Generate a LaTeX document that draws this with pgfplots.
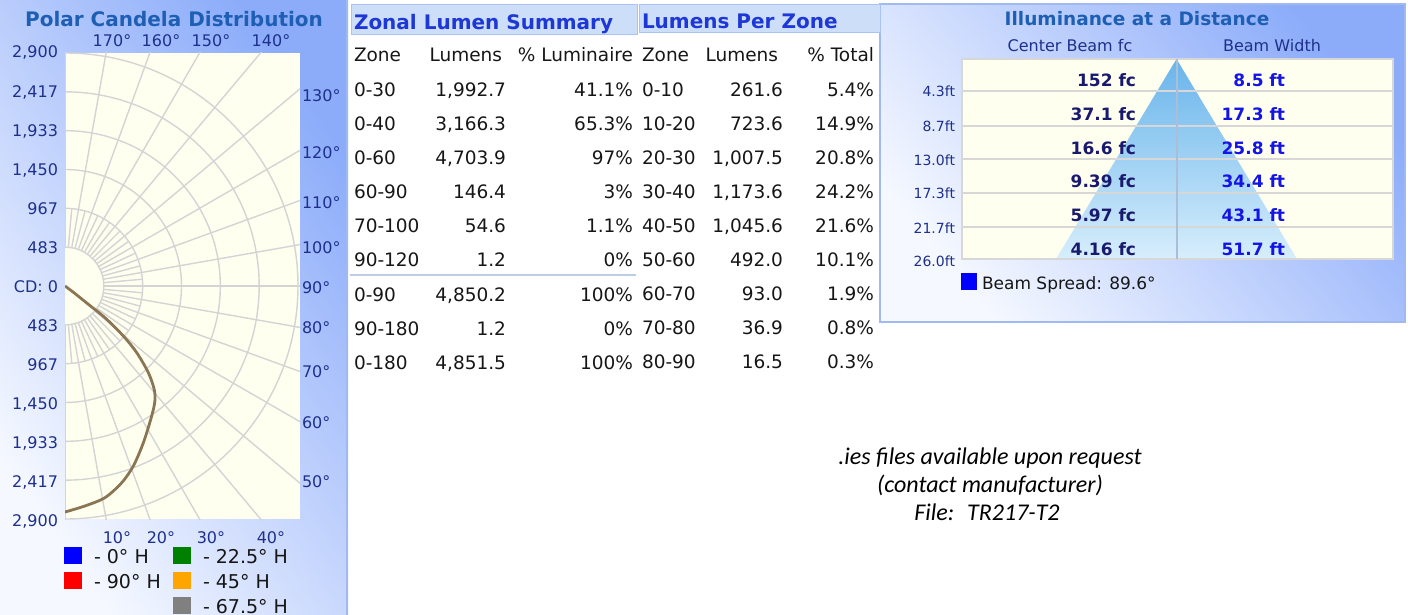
\documentclass[border=0pt]{standalone}
\usepackage{pgfplots}
\usepackage{pgfplotstable}
\pgfplotsset{compat=1.18}
\usepackage{fontspec}
\setmainfont{DejaVu Sans}
\newfontfamily\carlito{Carlito}
\newcommand\fz[1]{\fontsize{#1pt}{#1pt}\selectfont}
\definecolor{titleblue}{RGB}{30,95,180}
\definecolor{lblblue}{RGB}{30,48,140}
\definecolor{hdrblue}{RGB}{30,55,215}
\definecolor{hdrfill}{RGB}{205,222,248}
\definecolor{hdrdraw}{RGB}{170,195,240}
\definecolor{cream}{RGB}{255,255,240}
\definecolor{gridc}{RGB}{212,212,212}
\definecolor{curvec}{RGB}{138,118,85}
\definecolor{pTop}{RGB}{140,172,250}
\definecolor{pBot}{RGB}{245,248,255}
\definecolor{txt}{RGB}{22,22,22}
\definecolor{navy}{RGB}{25,25,110}
\definecolor{vblue}{RGB}{20,20,230}
\definecolor{legG}{RGB}{0,128,0}
\definecolor{legO}{RGB}{255,165,0}
\definecolor{legGr}{RGB}{128,128,128}
\definecolor{triTop}{RGB}{105,180,235}
\definecolor{triBot}{RGB}{215,238,252}
\definecolor{sepc}{RGB}{190,205,230}
\definecolor{rowl}{RGB}{215,215,215}
\definecolor{pbord}{RGB}{160,185,240}
\definecolor{vline}{RGB}{170,190,215}

\pgfplotstableread{
ang cd
0 2813
5.2 2749
10.7 2681
16.1 2548
20.8 2396
26.6 2180
33.7 1945
38.0 1817
40.8 1699
43.9 1496
47.1 1219
49.4 956
51.6 635
51.9 369
53.0 150
54.0 0
}\polardata

\begin{document}
\begin{tikzpicture}
\path[use as bounding box] (0pt,0pt) rectangle (1408pt,-615pt);
% ---------------- backgrounds and polar grid
\begin{scope}[x=1pt,y=-1pt]
  \shade[top color=pTop, bottom color=pBot, shading angle=-55] (0,0) rectangle (348,615);
  \draw[pbord, line width=1.5] (347.2,0) -- (347.2,615);
  \fill[cream] (65,53) rectangle (300,519);
  \begin{scope}
    \clip (65,53) rectangle (300,519);
    \foreach \r in {38.83,77.67,116.5,155.33,194.17,233}
      \draw[gridc, line width=1.4] (65,286) circle[radius=\r];
    \foreach \t in {0,10,...,180}
      \draw[gridc, line width=1.4] (65,286) ++({90-\t}:38.83) -- ++({90-\t}:420);
    \foreach \t in {5,15,...,175}
      \draw[gridc, line width=1.4] (65,286) ++({90-\t}:38.83) -- ++({90-\t}:38.83);
  \end{scope}
  % Illuminance panel background
  \shade[top color=pTop, bottom color=pBot, shading angle=-50] (880,4) rectangle (1405,322);
  \draw[pbord, line width=1.2] (880,4) rectangle (1405,322);
  \fill[cream] (962,59) rectangle (1393,259);
\end{scope}

% ---------------- polar candela curve
\begin{axis}[at={(65pt,-519pt)}, anchor=south west, width=235pt, height=466pt,
  scale only axis, xmin=0, xmax=2925, ymin=-2900, ymax=2900, axis lines=none]
  \addplot[curvec, line width=2.8pt, line join=round, smooth, tension=0.5] table[x expr={\thisrow{cd}*sin(\thisrow{ang})}, y expr={-\thisrow{cd}*cos(\thisrow{ang})}] {\polardata};
\end{axis}

% ---------------- beam triangle
\begin{axis}[at={(1056pt,-259pt)}, anchor=south west, width=241pt, height=200pt,
  scale only axis, xmin=0, xmax=241, ymin=0, ymax=200, axis lines=none, clip=false]
  \addplot[draw=none, top color=triTop, bottom color=triBot] coordinates {(0,0) (120.5,200) (241,0)} \closedcycle;
\end{axis}

\begin{scope}[x=1pt,y=-1pt, every node/.style={inner sep=0pt, outer sep=0pt}]
  % illuminance grid lines
  \foreach \y in {91,126,159,192.5,226.5}
    \draw[rowl, line width=2] (962,\y) -- (1393,\y);
  \draw[rowl, line width=1.5] (962,59) rectangle (1393,259);
  \draw[vline, line width=1.2] (1177,59) -- (1177,259);

  % Left panel texts
  \node[anchor=base, font=\bfseries\fz{20}, text=titleblue] at (174,26.5) {Polar Candela Distribution};
  \foreach \lab [count=\i from 0] in {2{,}900,2{,}417,1{,}933,1{,}450,967,483,CD: 0,483,967,1{,}450,1{,}933,2{,}417,2{,}900}
    \node[anchor=base east, font=\fz{16}, text=lblblue] at (58,{58+39.08*\i}) {\lab};
  \foreach \lab/\y in {130/102,120/158,110/208,100/253,90/293,80/333,70/377,60/428,50/487}
    \node[anchor=base west, font=\fz{16}, text=lblblue] at (302,\y) {\lab°};
  \foreach \lab/\x in {170/112,160/161,150/211,140/271}
    \node[anchor=base, font=\fz{16}, text=lblblue] at (\x,46.7) {\lab°};
  \foreach \lab/\x in {10/117,20/161,30/211,40/271}
    \node[anchor=base, font=\fz{16}, text=lblblue] at (\x,543) {\lab°};
  % legend
  \fill[blue] (64,547) rectangle (82,564);
  \fill[legG] (173,547) rectangle (191,564);
  \fill[red] (64,572) rectangle (82,589);
  \fill[legO] (173,572) rectangle (191,589);
  \fill[legGr] (173,597) rectangle (191,614);
  \node[anchor=base west, font=\fz{19}, text=txt] at (94,563.5) {- 0° H};
  \node[anchor=base west, font=\fz{19}, text=txt] at (203,563.5) {- 22.5° H};
  \node[anchor=base west, font=\fz{19}, text=txt] at (94,588) {- 90° H};
  \node[anchor=base west, font=\fz{19}, text=txt] at (203,588) {- 45° H};
  \node[anchor=base west, font=\fz{19}, text=txt] at (203,613) {- 67.5° H};

  % Zonal Lumen Summary
  \filldraw[fill=hdrfill, draw=hdrdraw, line width=1] (351,5) rectangle (637,35);
  \node[anchor=base west, font=\bfseries\fz{20}, text=hdrblue] at (354,29.5) {Zonal Lumen Summary};
  \node[anchor=base west, font=\fz{18.5}, text=txt] at (354,62) {Zone};
  \node[anchor=base east, font=\fz{18.5}, text=txt] at (502,62) {Lumens};
  \node[anchor=base east, font=\fz{18.5}, text=txt] at (633,62) {\% Luminaire};
  \foreach \z/\l/\p/\y in {0-30/{1,992.7}/41.1\%/96.5, 0-40/{3,166.3}/65.3\%/130.5, 0-60/{4,703.9}/97\%/164.5,
      60-90/146.4/3\%/198.5, 70-100/54.6/1.1\%/232.5, 90-120/1.2/0\%/266.5,
      0-90/{4,850.2}/100\%/301, 90-180/1.2/0\%/335, 0-180/{4,851.5}/100\%/369}
  {
    \node[anchor=base west, font=\fz{18.5}, text=txt] at (354,\y) {\z};
    \node[anchor=base east, font=\fz{18.5}, text=txt] at (506,\y) {\l};
    \node[anchor=base east, font=\fz{18.5}, text=txt] at (633,\y) {\p};
  }
  \draw[sepc, line width=2] (350,275) -- (636,275);

  % Lumens Per Zone
  \filldraw[fill=hdrfill, draw=hdrdraw, line width=1] (639,5) rectangle (880,33);
  \node[anchor=base west, font=\bfseries\fz{20}, text=hdrblue] at (642,28.5) {Lumens Per Zone};
  \node[anchor=base west, font=\fz{18.5}, text=txt] at (642,62) {Zone};
  \node[anchor=base east, font=\fz{18.5}, text=txt] at (778,62) {Lumens};
  \node[anchor=base east, font=\fz{18.5}, text=txt] at (874,62) {\% Total};
  \foreach \z/\l/\p/\y in {0-10/261.6/5.4\%/96.5, 10-20/723.6/14.9\%/130.5, 20-30/{1,007.5}/20.8\%/164.5,
      30-40/{1,173.6}/24.2\%/198.5, 40-50/{1,045.6}/21.6\%/232.5, 50-60/492.0/10.1\%/266.5,
      60-70/93.0/1.9\%/300.5, 70-80/36.9/0.8\%/334.5, 80-90/16.5/0.3\%/368.5}
  {
    \node[anchor=base west, font=\fz{18.5}, text=txt] at (642,\y) {\z};
    \node[anchor=base east, font=\fz{18.5}, text=txt] at (783,\y) {\l};
    \node[anchor=base east, font=\fz{18.5}, text=txt] at (874,\y) {\p};
  }

  % Illuminance at a Distance
  \node[anchor=base, font=\bfseries\fz{18.5}, text=titleblue] at (1137,26) {Illuminance at a Distance};
  \node[anchor=base, font=\fz{16}, text=lblblue] at (1070,52) {Center Beam fc};
  \node[anchor=base, font=\fz{16}, text=lblblue] at (1272,52) {Beam Width};
  \foreach \a/\b/\y in {152 fc/8.5 ft/86.5, 37.1 fc/17.3 ft/120.5, 16.6 fc/25.8 ft/154,
      9.39 fc/34.4 ft/187.5, 5.97 fc/43.1 ft/221, 4.16 fc/51.7 ft/255}
  {
    \node[anchor=base east, font=\bfseries\fz{17}, text=navy] at (1136,\y) {\a};
    \node[anchor=base east, font=\bfseries\fz{17}, text=vblue] at (1285,\y) {\b};
  }
  \foreach \d/\y in {4.3ft/96.7, 8.7ft/131.7, 13.0ft/165, 17.3ft/198.3, 21.7ft/233, 26.0ft/266}
    \node[anchor=base east, font=\fz{14}, text=lblblue] at (955,\y) {\d};
  \fill[blue] (961,273) rectangle (977,290);
  \node[anchor=base west, font=\fz{17}, text=txt] at (982,289) {Beam Spread: 89.6°};

  % Note
  \node[anchor=base, font=\carlito\itshape\fz{24}] at (990,464) {.ies files available upon request};
  \node[anchor=base, font=\carlito\itshape\fz{24}] at (990,492) {(contact manufacturer)};
  \node[anchor=base, font=\carlito\itshape\fz{24}] at (987,520) {File:\hspace{13pt}TR217-T2};
\end{scope}
\end{tikzpicture}
\end{document}
